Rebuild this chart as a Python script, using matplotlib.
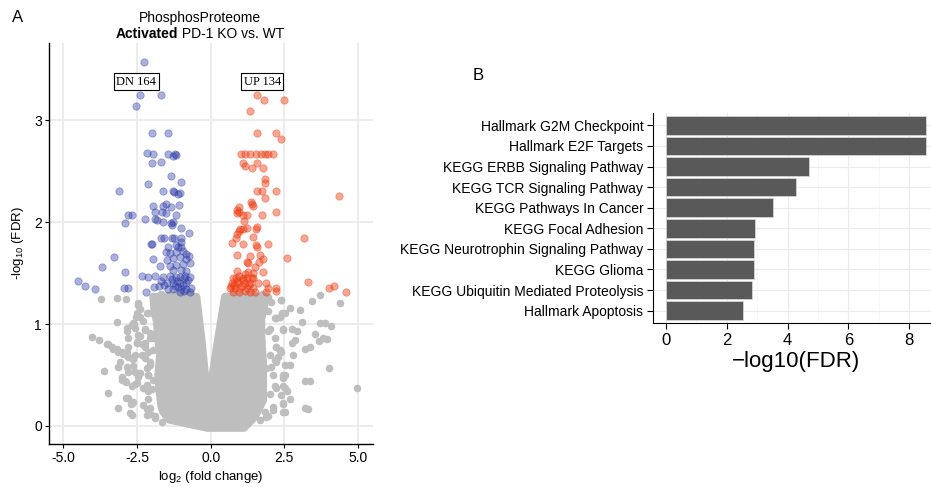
import matplotlib
matplotlib.use("Agg")
import matplotlib.pyplot as plt
from matplotlib.ticker import MultipleLocator

plt.rcParams["font.family"] = ["Liberation Sans", "DejaVu Sans"]
plt.rcParams["mathtext.fontset"] = "custom"
plt.rcParams["mathtext.rm"] = "Liberation Sans"
plt.rcParams["mathtext.it"] = "Liberation Sans:italic"
plt.rcParams["mathtext.bf"] = "Liberation Sans:bold"
plt.rcParams["axes.unicode_minus"] = False

# ---- panel A: volcano ----
down_x = [-2.26, -2.40, -1.68, -2.54, -1.98, -1.46, -2.17, -1.97, -1.46, -1.22, -1.19, -1.28,
          -1.99, -1.68, -1.34, -0.99, -2.14, -3.11, -1.60, -1.29, -1.25, -1.10, -1.05, -1.09,
          -1.95, -1.63, -1.50, -1.34, -1.89, -1.64, -1.52, -1.18, -2.81, -2.68, -2.23, -1.87,
          -1.82, -1.61, -1.34, -1.28, -1.30, -2.89, -0.99, -0.75, -1.68, -1.58, -1.32, -1.24,
          -1.01, -2.03, -1.98, -0.99, -1.10, -1.44, -1.18, -0.99,
          -4.48, -4.26, -3.91, -3.68, -3.27, -2.90, -2.93, -2.80, -2.34, -2.20, -1.95, -1.93,
          -1.53, -1.38, -1.16, -0.95, -0.73, -0.82, -1.49, -1.27, -1.04, -0.84,
          -1.72, -1.38, -1.16, -0.95, -0.71, -1.27, -0.99, -0.82,
          -2.12, -1.88, -1.61, -1.38, -1.16, -1.03, -0.87, -0.71,
          -1.49, -1.27, -1.04, -0.82, -1.75, -1.44, -1.27, -0.99, -0.82, -0.65,
          -1.10, -0.95, -0.90, -1.15, -0.78, -1.05, -0.92, -1.20, -0.70, -1.30, -1.58, -1.67]
down_y = [3.57, 3.25, 3.25, 3.14, 2.88, 2.88, 2.68, 2.67, 2.67, 2.67, 2.66, 2.65,
          2.58, 2.59, 2.45, 2.40, 2.38, 2.31, 2.31, 2.31, 2.30, 2.28, 2.29, 2.17,
          2.16, 2.16, 2.18, 2.15, 2.10, 2.10, 2.09, 2.07, 2.07, 2.07, 2.03, 2.03,
          2.02, 2.00, 1.99, 2.00, 1.97, 1.99, 1.94, 1.89, 1.85, 1.85, 1.85, 1.85,
          1.85, 1.79, 1.79, 1.76, 1.76, 1.76, 1.78, 1.81,
          1.42, 1.37, 1.34, 1.56, 1.66, 1.51, 1.35, 1.35, 1.47, 1.32, 1.64, 1.36,
          1.71, 1.70, 1.71, 1.72, 1.67, 1.69, 1.63, 1.65, 1.66, 1.64,
          1.57, 1.57, 1.58, 1.59, 1.60, 1.53, 1.53, 1.52,
          1.46, 1.47, 1.46, 1.47, 1.46, 1.46, 1.47, 1.46,
          1.40, 1.40, 1.40, 1.40, 1.37, 1.34, 1.34, 1.34, 1.34, 1.35,
          1.36, 1.38, 1.33, 1.42, 1.43, 1.32, 1.45, 1.37, 1.32, 1.44, 1.38, 1.42]

up_x = [1.56, 1.81, 2.48, 1.33, 1.58, 2.23, 2.40,
        1.02, 1.18, 1.33, 1.53, 1.69, 1.84, 1.95, 2.10,
        1.08, 1.16, 1.56, 1.41, 1.78, 1.84, 1.84, 1.58, 1.73, 2.23, 4.35, 1.84,
        1.35, 1.39, 1.42, 0.95, 0.90, 0.97, 0.88, 1.08, 1.24, 2.21, 1.73,
        1.14, 0.99, 0.96, 1.08, 1.24, 1.56, 1.52,
        0.90, 0.85, 1.42, 3.17, 0.73, 1.08, 1.53, 1.56, 1.95,
        0.88, 1.24, 1.27, 1.33, 1.67, 1.78, 1.64, 1.50, 2.59,
        0.88, 1.16, 1.27, 1.44, 1.76,
        0.76, 0.85, 1.08, 1.22, 1.44, 1.39,
        0.71, 0.93, 1.16, 1.33, 1.61, 1.89, 3.31,
        0.65, 0.82, 0.99, 1.22, 1.44, 1.93, 2.23, 2.21, 1.89,
        0.76, 0.97, 1.33, 1.50, 4.02, 4.19, 4.57,
        0.80, 1.05, 1.10, 0.95, 1.30, 0.70, 1.15, 0.88]
up_y = [3.25, 3.20, 3.20, 3.09, 2.88, 2.88, 2.82,
        2.67, 2.67, 2.67, 2.67, 2.67, 2.67, 2.67, 2.67,
        2.58, 2.55, 2.58, 2.53, 2.53, 2.42, 2.39, 2.31, 2.31, 2.31, 2.26, 2.24,
        2.20, 2.18, 2.16, 2.15, 2.12, 2.10, 2.09, 2.07, 2.07, 2.10, 2.07,
        2.01, 1.93, 1.91, 1.93, 1.94, 1.95, 1.93,
        1.88, 1.85, 1.86, 1.85, 1.80, 1.79, 1.78, 1.76, 1.79,
        1.68, 1.61, 1.60, 1.67, 1.68, 1.64, 1.61, 1.56, 1.65,
        1.52, 1.49, 1.51, 1.50, 1.51,
        1.45, 1.45, 1.45, 1.45, 1.45, 1.45,
        1.40, 1.40, 1.40, 1.40, 1.40, 1.40, 1.41,
        1.35, 1.35, 1.35, 1.35, 1.35, 1.35, 1.35, 1.33, 1.32,
        1.32, 1.32, 1.32, 1.32, 1.35, 1.37, 1.32,
        1.38, 1.37, 1.43, 1.47, 1.38, 1.37, 1.33, 1.42]

# scattered non-significant points
ns_x = [-3.73, -3.17, -2.87, -2.46, -2.40, -2.12, -2.40, -2.54, -2.63,
        -2.68, -2.59, -3.16, -2.85, -2.80, -2.82, -2.23, -2.06, -1.95,
        -4.02, -3.79, -3.53, -3.36, -3.19, -3.02, -2.85, -2.68,
        -3.47, -3.30, -3.14, -2.97, -2.80, -2.63,
        -2.46, -2.51, -2.34, -2.23, -2.80, -2.85, -2.34, -2.12, -2.06, -2.17,
        -3.08, -3.14, -2.85, -2.80, -3.02, -2.91, -2.99, -2.87,
        -3.61, -2.57, -2.46, -2.51, -2.12, -2.17, -2.12,
        -2.68, -2.80, -2.71, -2.87, -2.68, -3.47, -3.14, -2.74,
        -2.12, -2.17, -2.06, -1.89, -1.66,
        -2.46, -2.51, -2.17, -2.29, -2.57, -2.23, -2.40, -2.06, -2.51, -2.23, -1.95,
        -2.57, -2.23, -2.06, -2.63, -2.40, -2.12, -1.95, -2.57, -2.29, -2.00,
        -2.63, -2.29, -2.06, -2.17, -1.89, -2.68,
        2.38, 2.68, 3.02, 3.42, 3.70, 2.35, 2.42, 2.18,
        3.08, 3.70, 2.46, 2.76, 2.91, 2.85, 1.95,
        2.18, 3.53, 3.81, 3.19, 3.36, 2.23, 2.40, 2.27, 2.80,
        2.23, 2.06, 2.68, 2.51, 2.46,
        2.18, 2.46, 2.57, 2.40, 2.68, 3.19, 3.36, 3.19, 3.31,
        2.46, 2.46, 2.12, 1.89,
        4.38, 3.87, 4.07, 4.02, 4.95, 3.67, 3.93, 2.74,
        2.06, 2.40, 1.95, 2.23, 2.52, 2.01, 2.46, 2.23, 2.35, 2.01, 2.52, 2.18,
        1.89, 2.12, 2.46, 2.23, 2.52, 2.01, 2.46, 2.12, 1.84, 2.52, 1.95, 1.67,
        -1.95, -1.70, -1.45, -1.20, -0.95, -0.70, -0.55,
        0.55, 0.75, 1.00, 1.25, 1.50, 1.75, 1.95]
ns_y = [1.25, 1.26, 1.25, 1.21, 1.15, 1.11, 1.07, 1.07, 1.01,
        0.99, 1.00, 1.02, 0.96, 0.86, 0.93, 0.94, 0.91, 0.86,
        0.87, 0.84, 0.80, 0.78, 0.76, 0.73, 0.70, 0.67,
        0.80, 0.76, 0.73, 0.71, 0.68, 0.66,
        0.89, 0.81, 0.80, 0.81, 0.78, 0.73, 0.70, 0.73, 0.63, 0.57,
        0.63, 0.58, 0.58, 0.53, 0.48, 0.44, 0.45, 0.43,
        0.54, 0.53, 0.48, 0.42, 0.50, 0.40, 0.34,
        0.39, 0.27, 0.22, 0.27, 0.23, 0.32, 0.18, 0.13,
        0.26, 0.17, 0.12, 0.08, 0.04,
        1.19, 1.11, 1.11, 1.03, 0.96, 0.95, 0.88, 0.86, 0.82, 0.78, 0.75,
        0.70, 0.67, 0.60, 0.59, 0.52, 0.50, 0.45, 0.41, 0.37, 0.36,
        0.24, 0.21, 0.18, 0.11, 0.10, 0.11,
        1.24, 1.16, 1.14, 1.23, 1.29, 1.07, 1.11, 1.06,
        1.02, 1.01, 0.94, 0.95, 0.93, 0.84, 0.93,
        0.86, 0.90, 0.86, 0.76, 0.78, 0.78, 0.73, 0.68, 0.70,
        0.63, 0.58, 0.60, 0.50, 0.47,
        0.39, 0.39, 0.34, 0.30, 0.26, 0.44, 0.44, 0.18, 0.17,
        0.22, 0.14, 0.16, 0.09,
        1.21, 1.01, 0.98, 0.57, 0.37, 0.83, 0.85, 0.81,
        1.22, 1.24, 1.13, 1.06, 1.11, 0.95, 0.95, 0.78, 0.75, 0.70, 0.60, 0.65,
        0.57, 0.50, 0.50, 0.37, 0.37, 0.31, 0.23, 0.19, 0.14, 0.14, 0.10, 0.06,
        1.27, 1.30, 1.29, 1.30, 1.28, 1.30, 1.26,
        1.28, 1.30, 1.29, 1.30, 1.28, 1.30, 1.27]

# outline of the dense non-significant cloud (too many overlapping points to list)
cloud_x = [-1.95, -1.90, -1.83, -1.78, -1.72, -1.78, -1.75, -1.68, -1.62, -1.40, -0.60, -0.11,
           0.50, 1.13, 1.50, 1.78, 1.78, 1.72, 1.72, 1.89, 0.48, 0.25, 0.08, -0.02, -0.04,
           -0.08, -0.20, -0.31, -0.48]
cloud_y = [1.27, 1.10, 1.03, 0.85, 0.70, 0.50, 0.37, 0.20, 0.14, 0.06, 0.01, -0.02,
           -0.02, -0.02, 0.09, 0.25, 0.60, 0.90, 1.05, 1.27, 1.27, 0.86, 0.54, 0.26, 0.22,
           0.30, 0.54, 0.86, 1.27]

# ---- panel B: enrichment ----
pathways = ["Hallmark G2M Checkpoint", "Hallmark E2F Targets", "KEGG ERBB Signaling Pathway",
            "KEGG TCR Signaling Pathway", "KEGG Pathways In Cancer", "KEGG Focal Adhesion",
            "KEGG Neurotrophin Signaling Pathway", "KEGG Glioma",
            "KEGG Ubiquitin Mediated Proteolysis", "Hallmark Apoptosis"]
neglog_fdr = [8.54, 8.54, 4.70, 4.27, 3.53, 2.91, 2.88, 2.88, 2.84, 2.53]

grey = "#BEBEBE"
blue = "#2B3AA6"
red = "#EE3B10"

fig = plt.figure(figsize=(9.31, 4.87), dpi=100)

ax = fig.add_axes([0.0526, 0.0883, 0.348, 0.8234])
ax.fill(cloud_x, cloud_y, color=grey, lw=5.5, joinstyle="round", zorder=2)
ax.scatter(ns_x, ns_y, s=30, color=grey, linewidths=0, zorder=2)
ax.scatter(down_x, down_y, s=28, color=blue, alpha=0.4, linewidths=0.6, zorder=3)
ax.scatter(up_x, up_y, s=28, color=red, alpha=0.45, linewidths=0.6, zorder=3)
ax.text(-2.52, 3.38, "DN 164", family="Liberation Serif", size=9, ha="center", va="center",
        bbox=dict(boxstyle="square,pad=0.2", fc="white", ec="black", lw=0.8), zorder=4)
ax.text(1.75, 3.38, "UP 134", family="Liberation Serif", size=9, ha="center", va="center",
        bbox=dict(boxstyle="square,pad=0.2", fc="white", ec="black", lw=0.8), zorder=4)
ax.set_xlim(-5.48, 5.5)
ax.set_ylim(-0.177, 3.76)
ax.set_xticks([-5, -2.5, 0, 2.5, 5])
ax.set_xticklabels(["-5.0", "-2.5", "0.0", "2.5", "5.0"])
ax.set_yticks([0, 1, 2, 3])
ax.grid(True, color="#EBEBEB", lw=1.3, zorder=0)
ax.set_axisbelow(True)
for s in ["top", "right"]:
    ax.spines[s].set_visible(False)
for s in ["left", "bottom"]:
    ax.spines[s].set_linewidth(1.0)
ax.tick_params(labelsize=10, length=3, width=0.8, pad=2)
ax.set_xlabel("log$_2$ (fold change)", size=9.5, labelpad=3)
ax.set_ylabel("-log$_{10}$ (FDR)", size=9.5, labelpad=6)

fig.text(200 / 931, 1 - 18 / 487, "PhosphosProteome", size=10, ha="center", va="center")
t_bold = fig.text(0, 1 - 34 / 487, "Activated", size=10, weight="bold", va="center")
t_rest = fig.text(0, 1 - 34 / 487, " PD-1 KO vs. WT", size=10, va="center")
r = fig.canvas.get_renderer()
w1 = t_bold.get_window_extent(r).width
w2 = t_rest.get_window_extent(r).width
x0 = 200 - (w1 + w2) / 2
t_bold.set_x(x0 / 931)
t_rest.set_x((x0 + w1) / 931)

fig.text(18 / 931, 1 - 18 / 487, "A", size=12, ha="center", va="center")
fig.text(478 / 931, 1 - 75 / 487, "B", size=12, ha="center", va="center")

bx = fig.add_axes([653 / 931, 0.3368, 1.0086 - 653 / 931, 0.4312])
pos = list(range(len(pathways), 0, -1))
bx.barh(pos, neglog_fdr, height=0.9, color="#595959", edgecolor="#DDDDDD", lw=0.5, zorder=2)
bx.set_yticks(pos)
bx.set_yticklabels(pathways, size=10)
bx.set_ylim(0.4, len(pathways) + 0.6)
bx.set_xlim(-0.43, 8.98)
bx.set_xticks([0, 2, 4, 6, 8])
bx.xaxis.set_minor_locator(MultipleLocator(1))
bx.grid(True, which="major", color="#EBEBEB", lw=0.8, zorder=0)
bx.grid(True, which="minor", axis="x", color="#F4F4F4", lw=0.5, zorder=0)
bx.set_axisbelow(True)
for s in ["top", "right"]:
    bx.spines[s].set_visible(False)
bx.tick_params(axis="x", labelsize=12, length=4, width=0.8)
bx.tick_params(axis="x", which="minor", length=0)
bx.tick_params(axis="y", length=4, width=0.8, pad=3)
bx.set_xlabel("\u2212log10(FDR)", size=16, labelpad=2)

fig.savefig("out.png", dpi=100)
